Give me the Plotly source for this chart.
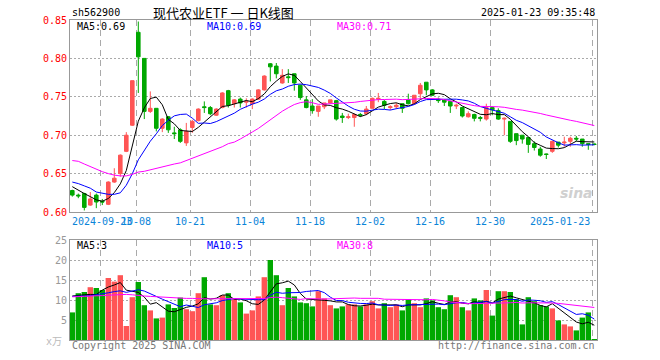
import numpy as np
import pandas as pd
import plotly.graph_objects as go

# ---------------- data ----------------
opens = [0.628,0.622,0.624,0.609,0.622,0.614,0.610,0.639,0.650,0.679,
         0.713,0.834,0.800,0.731,0.735,0.709,0.724,0.703,0.707,0.690,
         0.710,0.719,0.737,0.736,0.726,0.736,0.758,0.741,0.747,0.743,
         0.741,0.747,0.759,0.793,0.790,0.768,0.776,0.780,0.765,0.746,
         0.738,0.731,0.737,0.742,0.745,0.725,0.723,0.723,0.727,0.728,
         0.735,0.747,0.744,0.736,0.737,0.741,0.746,0.741,0.754,0.769,
         0.759,0.747,0.746,0.744,0.738,0.736,0.724,0.727,0.723,0.721,
         0.736,0.732,0.721,0.718,0.702,0.700,0.697,0.689,0.682,0.6755,
         0.679,0.691,0.690,0.692,0.696,0.695,0.689,0.6885]
highs = [0.629,0.624,0.625,0.626,0.624,0.617,0.640,0.657,0.675,0.704,
         0.771,0.848,0.800,0.757,0.735,0.722,0.725,0.711,0.709,0.716,
         0.720,0.735,0.744,0.738,0.735,0.756,0.759,0.747,0.749,0.748,
         0.748,0.760,0.778,0.794,0.794,0.786,0.786,0.780,0.766,0.751,
         0.747,0.738,0.742,0.746,0.746,0.729,0.728,0.728,0.729,0.738,
         0.749,0.755,0.746,0.739,0.742,0.741,0.754,0.752,0.768,0.769,
         0.760,0.749,0.747,0.744,0.741,0.737,0.731,0.728,0.725,0.741,
         0.737,0.735,0.723,0.718,0.702,0.700,0.697,0.692,0.685,0.676,
         0.693,0.691,0.698,0.698,0.699,0.695,0.689,0.689]
lows = [0.620,0.618,0.602,0.608,0.605,0.609,0.609,0.638,0.646,0.678,
        0.712,0.755,0.721,0.729,0.705,0.704,0.703,0.695,0.690,0.686,
        0.703,0.718,0.729,0.726,0.725,0.735,0.736,0.736,0.736,0.736,
        0.734,0.746,0.758,0.770,0.774,0.767,0.768,0.758,0.746,0.735,
        0.728,0.724,0.734,0.741,0.719,0.716,0.721,0.711,0.724,0.726,
        0.735,0.743,0.734,0.733,0.734,0.729,0.740,0.740,0.747,0.752,
        0.751,0.742,0.738,0.729,0.734,0.723,0.723,0.718,0.718,0.719,
        0.726,0.720,0.700,0.690,0.687,0.689,0.677,0.680,0.672,0.669,
        0.677,0.684,0.685,0.685,0.692,0.685,0.681,0.687]
closes = [0.622,0.621,0.606,0.617,0.613,0.613,0.639,0.644,0.674,0.700,
          0.771,0.802,0.731,0.735,0.709,0.721,0.707,0.702,0.692,0.705,
          0.718,0.734,0.736,0.728,0.734,0.755,0.739,0.746,0.742,0.744,
          0.747,0.759,0.777,0.789,0.780,0.778,0.775,0.768,0.749,0.736,
          0.732,0.738,0.742,0.746,0.721,0.723,0.724,0.727,0.726,0.734,
          0.748,0.748,0.739,0.737,0.739,0.735,0.741,0.752,0.765,0.759,
          0.752,0.745,0.743,0.738,0.739,0.725,0.728,0.722,0.722,0.736,
          0.733,0.721,0.722,0.692,0.693,0.695,0.688,0.684,0.674,0.675,
          0.692,0.687,0.691,0.696,0.695,0.689,0.688,0.688]
volumes = [6.9,11.7,12.0,13.2,13.0,12.5,15.5,14.6,16.2,3.5,
           10.7,14.5,8.7,7.4,5.4,5.6,8.9,8.0,10.6,7.7,
           7.2,11.7,15.7,8.9,8.7,11.2,11.7,10.2,9.4,6.6,
           7.4,10.9,15.7,20.0,16.2,8.7,13.0,10.9,9.4,9.2,
           8.4,12.2,10.4,8.7,7.9,8.4,8.9,8.9,8.4,8.9,
           9.7,7.9,9.2,8.2,8.9,7.4,10.2,9.2,8.2,10.4,
           9.9,8.2,7.7,11.2,10.7,8.2,7.4,10.4,9.9,12.5,
           6.1,12.2,12.2,12.0,10.2,3.9,10.7,9.7,8.7,8.4,
           7.9,4.9,3.9,3.4,2.4,5.6,6.9,0.15]

# moving-average values before enough history is in view
ma5_head = [0.633,0.628,0.624,0.620]
ma10_head = [0.639,0.637,0.634,0.631,0.626,0.624,0.623,0.623,0.625]
ma30_head = [0.667,0.666,0.6625,0.659,0.656,0.6525,0.650,0.648,0.647,0.647,
             0.649,0.652,0.653,0.655,0.657,0.659,0.661,0.6625,0.664,0.667,
             0.669,0.672,0.6755,0.678,0.682,0.685,0.689,0.691,0.695]
vma5_head = [11.0,11.2,11.3,11.4]
vma10_head = [10.9,10.9,11.0,11.1,11.3,11.5,11.8,12.1,12.3]
vma30_head = [10.8,10.8,10.9,11.0,11.0,11.1,11.2,11.3,11.4,11.4,
              11.3,11.1,11.0,10.9,10.8,10.7,10.6,10.5,10.5,10.4,
              10.4,10.3,10.3,10.3,10.3,10.3,10.3,10.3,10.3]

tick_index = [5, 11, 20, 30, 40, 50, 60, 70, 87]
tick_labels = ["2024-09-23", "10-08", "10-21", "11-04", "11-18",
               "12-02", "12-16", "12-30", "2025-01-23"]
price_ticks = [0.60, 0.65, 0.70, 0.75, 0.80, 0.85]
vol_ticks = [5, 10, 15, 20, 25]

title_text = "现代农业ETF 一 日K线图"
code_text = "sh562900"
time_text = "2025-01-23 09:35:48"

# ---------------- helpers ----------------
def moving_average(vals, n, head):
    s = pd.Series(vals, dtype=float).rolling(n).mean().to_numpy()
    s[:len(head)] = head
    return s

idx = np.arange(len(closes))
ma5 = moving_average(closes, 5, ma5_head)
ma10 = moving_average(closes, 10, ma10_head)
ma30 = moving_average(closes, 30, ma30_head)
vma5 = moving_average(volumes, 5, vma5_head)
vma10 = moving_average(volumes, 10, vma10_head)
vma30 = moving_average(volumes, 30, vma30_head)

RED = "#FF5555"
GREEN = "#00A800"
MONO = "DejaVu Sans Mono, Liberation Mono, monospace"
grid_pos = [t - 0.33 for t in tick_index]

fig = go.Figure()
fig.add_trace(go.Candlestick(
    x=idx, open=opens, high=highs, low=lows, close=closes,
    increasing=dict(line=dict(color=RED, width=1), fillcolor=RED),
    decreasing=dict(line=dict(color=GREEN, width=1), fillcolor=GREEN),
    whiskerwidth=0, xaxis="x", yaxis="y", hoverinfo="skip"))
for ser, col in [(ma5, "black"), (ma10, "#0000FF"), (ma30, "#FF00FF")]:
    fig.add_trace(go.Scatter(x=idx, y=ser, mode="lines",
                             line=dict(color=col, width=1),
                             xaxis="x", yaxis="y", hoverinfo="skip"))

vol_colors = [RED if c >= o else GREEN for o, c in zip(opens, closes)]
fig.add_trace(go.Bar(x=idx, y=volumes, marker=dict(color=vol_colors, line=dict(width=0)),
                     width=0.9, xaxis="x2", yaxis="y2", hoverinfo="skip"))
for ser, col in [(vma5, "black"), (vma10, "#0000FF"), (vma30, "#FF00FF")]:
    fig.add_trace(go.Scatter(x=idx, y=ser, mode="lines",
                             line=dict(color=col, width=1),
                             xaxis="x2", yaxis="y2", hoverinfo="skip"))

xr = [-0.383, 87.45]
xcommon = dict(range=xr, tickvals=grid_pos, showticklabels=False, ticks="",
               showgrid=True, gridcolor="#AAAAAA", griddash="6px,4px", gridwidth=1,
               showline=True, mirror=True, linecolor="#999999", linewidth=1,
               zeroline=False, fixedrange=True)
ycommon = dict(showgrid=True, gridcolor="#AAAAAA", griddash="2px,2px", gridwidth=1,
               showline=True, mirror=True, linecolor="#999999", linewidth=1,
               zeroline=False, ticks="", fixedrange=True)

fig.update_layout(
    width=660, height=360,
    margin=dict(l=70, r=63, t=20, b=20),
    paper_bgcolor="white", plot_bgcolor="white",
    showlegend=False, boxgap=0.15,
    font=dict(family=MONO, size=10),
    xaxis=dict(domain=[0, 1], anchor="y", rangeslider=dict(visible=False), **xcommon),
    xaxis2=dict(domain=[0, 1], anchor="y2", **xcommon),
    yaxis=dict(domain=[0.4, 1], anchor="x", range=[0.60, 0.85], tickvals=price_ticks,
               ticktext=[f"{v:.2f}" for v in price_ticks],
               tickfont=dict(color="#FF0000", size=10, family=MONO), **ycommon),
    yaxis2=dict(domain=[0, 0.3125], anchor="x2", range=[0, 25], tickvals=vol_ticks,
                ticktext=[str(v) for v in vol_ticks],
                tickfont=dict(color="#999999", size=10, family=MONO), **ycommon),
)

ann = []
# date labels
for k, (p, lab) in enumerate(zip(grid_pos, tick_labels)):
    if k == 0:
        ann.append(dict(x=0, xref="paper", y=0.3697, yref="paper", text=lab,
                        xanchor="left", yanchor="middle", showarrow=False,
                        font=dict(color="#0A84D8", size=10, family=MONO)))
    else:
        ann.append(dict(x=p, xref="x", y=0.3697, yref="paper", text=lab,
                        xanchor="right" if k == len(tick_labels) - 1 else "center",
                        yanchor="middle", showarrow=False,
                        font=dict(color="#0A84D8", size=10, family=MONO)))
# header
ann.append(dict(x=0, xref="paper", y=1.022, yref="paper", text=code_text, xanchor="left",
                yanchor="middle", showarrow=False, font=dict(color="black", size=10, family=MONO)))
ann.append(dict(x=0.291, xref="paper", y=1.025, yref="paper", text=title_text, xanchor="center",
                yanchor="middle", showarrow=False,
                font=dict(color="black", size=13, family="Noto Sans CJK SC, DejaVu Sans")))
ann.append(dict(x=1, xref="paper", y=1.022, yref="paper", text=time_text, xanchor="right",
                yanchor="middle", showarrow=False, font=dict(color="black", size=10, family=MONO)))
# MA labels
ma_label_x = [0.0095, 0.256, 0.503]
price_ma_txt = [f"MA5:{ma5[-1]:.2f}", f"MA10:{ma10[-1]:.2f}", f"MA30:{ma30[-1]:.2f}"]
vol_ma_txt = [f"MA5:{int(vma5[-1])}", f"MA10:{int(vma10[-1])}", f"MA30:{int(vma30[-1])}"]
for xx, t, c in zip(ma_label_x, price_ma_txt, ["black", "#0000FF", "#FF00FF"]):
    ann.append(dict(x=xx, xref="paper", y=0.979, yref="paper", text=t, xanchor="left",
                    yanchor="middle", showarrow=False, font=dict(color=c, size=10, family=MONO)))
for xx, t, c in zip(ma_label_x, vol_ma_txt, ["black", "#0000FF", "#FF00FF"]):
    ann.append(dict(x=xx, xref="paper", y=0.294, yref="paper", text=t, xanchor="left",
                    yanchor="middle", showarrow=False, font=dict(color=c, size=10, family=MONO)))
# footer
ann.append(dict(x=-0.011, xref="paper", y=-0.005, yref="paper", text="x万", xanchor="right",
                yanchor="middle", showarrow=False,
                font=dict(color="#BBBBBB", size=10, family="DejaVu Sans Mono, Noto Sans CJK SC")))
ann.append(dict(x=0, xref="paper", y=-0.018, yref="paper", text="Copyright 2025 SINA.COM",
                xanchor="left", yanchor="middle", showarrow=False,
                font=dict(color="#777777", size=10, family=MONO)))
ann.append(dict(x=1, xref="paper", y=-0.018, yref="paper", text="http://finance.sina.com.cn",
                xanchor="right", yanchor="middle", showarrow=False,
                font=dict(color="#777777", size=10, family=MONO)))
# watermark
ann.append(dict(x=0.997, xref="paper", y=0.46, yref="paper", text="<b><i>sina</i></b>",
                xanchor="right", yanchor="middle", showarrow=False,
                font=dict(color="#D0D0D0", size=14, family="DejaVu Sans")))
fig.update_layout(annotations=ann)

fig.write_html("out.html", config={"displayModeBar": False},
               post_script="document.body.style.margin='0px';")
